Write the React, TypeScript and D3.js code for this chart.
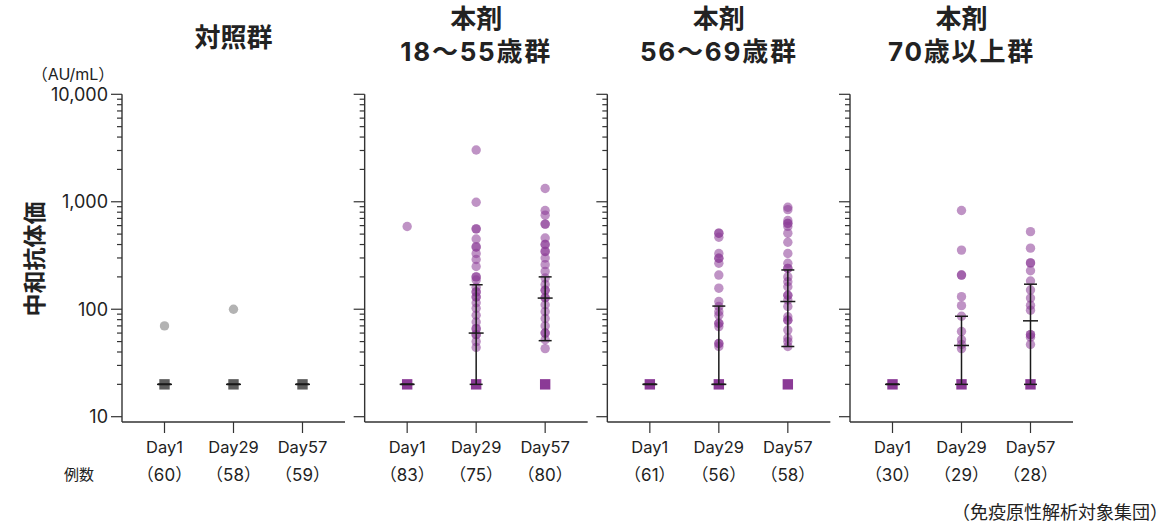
import React from 'react';
import * as d3 from 'd3';

// ---- data ----
const days = ['Day1', 'Day29', 'Day57'];
const groupTitles = [['対照群'], ['本剤', '18〜55歳群'], ['本剤', '56〜69歳群'], ['本剤', '70歳以上群']];
const counts = [
  [60, 58, 59],
  [83, 75, 80],
  [61, 56, 58],
  [30, 29, 28],
];
const yTicks = [10, 100, 1000, 10000];
const lloq = 20; // values below the limit are plotted as squares at 20

// individual values above the limit, per day
const dotsControl = [[70], [100], []];
const dots18to55 = [
  [589],
  [3030, 990, 560, 560, 450, 380, 380, 330, 290, 250, 200, 200, 187, 160, 145, 145, 130, 130, 115, 102, 88, 76, 66, 66, 58, 58, 50, 44],
  [1330, 830, 750, 620, 620, 460, 400, 400, 345, 345, 300, 260, 225, 195, 170, 150, 150, 128, 128, 110, 95, 82, 70, 60, 60, 52, 43],
];
const dots56to69 = [
  [],
  [510, 510, 468, 330, 298, 298, 268, 208, 157, 118, 106, 95, 88, 74, 74, 69, 48, 48, 45],
  [890, 845, 670, 630, 630, 590, 510, 420, 330, 268, 240, 240, 200, 180, 162, 135, 135, 122, 106, 85, 79, 79, 64, 54, 50, 45],
];
const dots70plus = [
  [],
  [830, 355, 208, 208, 131, 108, 86, 62, 52, 47, 43],
  [527, 370, 270, 270, 228, 183, 151, 127, 109, 98, 58, 58, 55, 47],
];
const dotsByGroup = [dotsControl, dots18to55, dots56to69, dots70plus];

// [lower, middle, upper] per day
const barsControl = [[20, 20, 20], [20, 20, 20], [20, 20, 20]];
const bars18to55 = [[20, 20, 20], [20, 60, 169], [51, 127, 200]];
const bars56to69 = [[20, 20, 20], [20, 20, 107], [45, 118, 232]];
const bars70plus = [[20, 20, 20], [20, 46, 86], [20, 78, 171]];
const barsByGroup = [barsControl, bars18to55, bars56to69, bars70plus];

const FONT = "Inter, 'Noto Sans CJK JP', sans-serif";
const AXIS = '#333';
const INK = '#222';

export default function App() {
  const width = 1168;
  const height = 526;
  const panelW = 223;
  const axisY = 422;

  const panelX = d3.scaleLinear().domain([0, 3]).range([122, 850]);
  const x = d3.scalePoint<string>().domain(days).range([0, panelW]).padding(0.616);
  const y = d3.scaleLog().domain([10, 10000]).range([416.7, 94.3]);
  const allTicks = y.ticks();
  const isMajor = (t: number) => Math.abs(Math.log10(t) - Math.round(Math.log10(t))) < 1e-9;
  const fmt = d3.format(',');

  return (
    <svg
      width={width}
      height={height}
      style={{ position: 'absolute', left: 0, top: 0, background: '#fff' }}
      fontFamily={FONT}
    >
      {/* y label */}
      <text
        transform={`translate(33,${259}) rotate(-90)`}
        textAnchor="middle"
        dominantBaseline="central"
        fontSize={23}
        fontWeight={700}
        fill={INK}
        fontFamily="'Noto Sans CJK JP', sans-serif"
      >
        中和抗体価
      </text>
      <text x={73} y={74} textAnchor="middle" dominantBaseline="central" fontSize={16} fill={INK}>
        （AU/mL）
      </text>
      {yTicks.map((t) => (
        <text
          key={t}
          x={108}
          y={y(t)}
          textAnchor="end"
          dominantBaseline="central"
          fontSize={18}
          fill={INK}
        >
          {fmt(t)}
        </text>
      ))}
      <text x={79} y={474} textAnchor="middle" dominantBaseline="central" fontSize={15} fill={INK}>
        例数
      </text>
      <text x={1168} y={512} textAnchor="end" dominantBaseline="central" fontSize={18} fill={INK}>
        （免疫原性解析対象集団）
      </text>

      {groupTitles.map((title, gi) => {
        const left = panelX(gi);
        const isControl = gi === 0;
        const dotColor = isControl ? '#b3b3b3' : '#8b3a96';
        const dotOpacity = isControl ? 1 : 0.55;
        const squareColor = isControl ? '#5c5c5c' : '#8b3a96';
        const cx = left + (x('Day1')! + x('Day57')!) / 2;
        return (
          <g key={gi}>
            {/* title */}
            {title.length === 1 ? (
              <text x={cx} y={37} textAnchor="middle" dominantBaseline="central" fontSize={26} fontWeight={700} fill={INK}>
                {title[0]}
              </text>
            ) : (
              title.map((line, li) => (
                <text
                  key={li}
                  x={cx}
                  y={18 + li * 33}
                  textAnchor="middle"
                  dominantBaseline="central"
                  fontSize={26}
                  fontWeight={700}
                  letterSpacing={li === 1 ? 1.8 : 0}
                  fill={INK}
                >
                  {line}
                </text>
              ))
            )}

            {/* y axis */}
            <line x1={left} x2={left} y1={y(10000)} y2={axisY} stroke={AXIS} strokeWidth={1.4} />
            {allTicks.map((t) => (
              <line
                key={t}
                x1={left - (isMajor(t) ? 11 : 5)}
                x2={left}
                y1={y(t)}
                y2={y(t)}
                stroke={AXIS}
                strokeWidth={1.2}
              />
            ))}

            {/* x axis */}
            <line x1={left} x2={left + panelW} y1={axisY} y2={axisY} stroke={AXIS} strokeWidth={1.4} />
            {days.map((d, di) => (
              <g key={d}>
                <line
                  x1={left + x(d)!}
                  x2={left + x(d)!}
                  y1={axisY}
                  y2={axisY + 11}
                  stroke={AXIS}
                  strokeWidth={1.2}
                />
                <text
                  x={left + x(d)!}
                  y={447}
                  textAnchor="middle"
                  dominantBaseline="central"
                  fontSize={16.5}
                  fill={INK}
                >
                  {d}
                </text>
                <text
                  x={left + x(d)!}
                  y={475}
                  textAnchor="middle"
                  dominantBaseline="central"
                  fontSize={17}
                  fill={INK}
                >
                  {`（${counts[gi][di]}）`}
                </text>
              </g>
            ))}

            {/* dots */}
            {dotsByGroup[gi].map((vals, di) =>
              vals.map((v, k) => (
                <circle
                  key={`${di}-${k}`}
                  cx={left + x(days[di])!}
                  cy={y(v)}
                  r={4.7}
                  fill={dotColor}
                  fillOpacity={dotOpacity}
                />
              ))
            )}

            {/* squares at the limit */}
            {days.map((d) => (
              <rect
                key={d}
                x={left + x(d)! - 5.2}
                y={y(lloq) - 5.2}
                width={10.4}
                height={10.4}
                fill={squareColor}
              />
            ))}

            {/* bars */}
            {barsByGroup[gi].map(([lo, mid, hi], di) => {
              const bx = left + x(days[di])!;
              const stroke = '#1a1a1a';
              return (
                <g key={di}>
                  <line x1={bx} x2={bx} y1={y(lo)} y2={y(hi)} stroke={stroke} strokeWidth={1.5} />
                  <line x1={bx - 6.5} x2={bx + 6.5} y1={y(lo)} y2={y(lo)} stroke={stroke} strokeWidth={1.5} />
                  <line x1={bx - 7.5} x2={bx + 7.5} y1={y(mid)} y2={y(mid)} stroke={stroke} strokeWidth={1.5} />
                  <line x1={bx - 6.5} x2={bx + 6.5} y1={y(hi)} y2={y(hi)} stroke={stroke} strokeWidth={1.5} />
                </g>
              );
            })}
          </g>
        );
      })}
    </svg>
  );
}
